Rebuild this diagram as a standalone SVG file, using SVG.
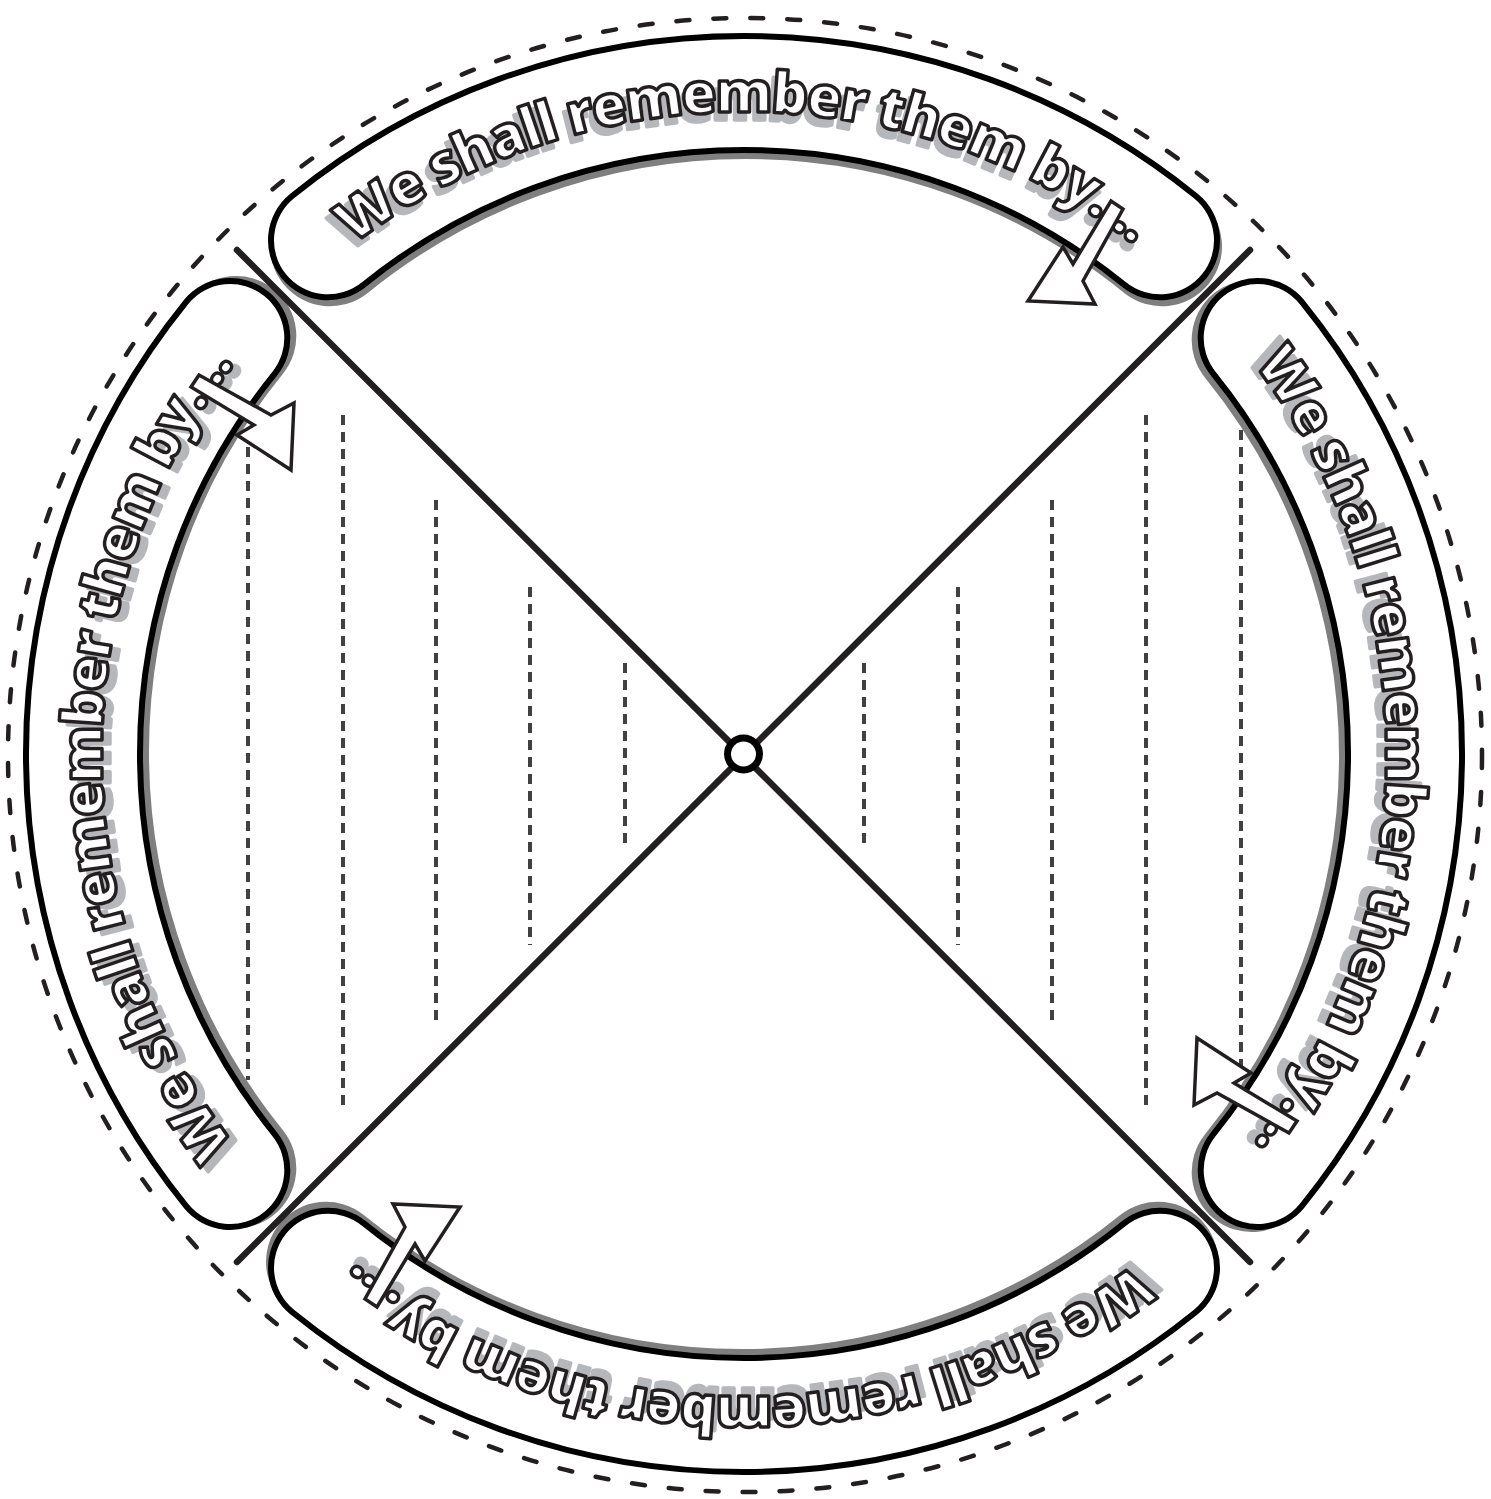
<svg xmlns="http://www.w3.org/2000/svg" xmlns:xlink="http://www.w3.org/1999/xlink" width="1491" height="1499" viewBox="0 0 1491 1499">
<style>
.bshadow{fill:none;stroke:#7f7f7f;stroke-width:120;stroke-linecap:round}
.bedge{fill:none;stroke:#000;stroke-width:120;stroke-linecap:round}
.bfill{fill:none;stroke:#fff;stroke-width:108;stroke-linecap:round}
.lbl{font-family:"Open Sans","DejaVu Sans",sans-serif;font-weight:800;font-size:57px}
.lbl-sh{fill:#b5b7ba;stroke:#b5b7ba;stroke-width:3.5;stroke-linejoin:round}
.lbl-tx{fill:#fff;stroke:#231f20;stroke-width:3.5;stroke-linejoin:round}
.arrow{fill:#fff;stroke:#231f20;stroke-width:3.5;stroke-linejoin:miter}
.guide{fill:none;stroke:#414042;stroke-width:4;stroke-dasharray:10 7}
.cross{fill:none;stroke:#231f20;stroke-width:6.5;stroke-linecap:round}
</style>
<defs>
<path id="band" d="M328 240.3 A661 661 0 0 1 1160 240.3"/>
<path id="tpath" d="M188 433 A642 642 0 0 1 1300 433"/>
<g id="banner">
<use xlink:href="#band" class="bshadow" transform="translate(2,6)"/>
<use xlink:href="#band" class="bedge"/>
<use xlink:href="#band" class="bfill"/>
<g transform="translate(-4,8)"><text class="lbl lbl-sh"><textPath xlink:href="#tpath" startOffset="50%" text-anchor="middle" textLength="840" lengthAdjust="spacing">We shall remember them by....</textPath></text></g>
<text class="lbl lbl-tx"><textPath xlink:href="#tpath" startOffset="50%" text-anchor="middle" textLength="840" lengthAdjust="spacing">We shall remember them by....</textPath></text>
<polygon class="arrow" points="1028,301 1063,247 1073,264 1111,201 1123,209 1083,281 1095,304"/>
</g>
</defs>
<rect width="1491" height="1499" fill="#fff"/>
<circle id="outer-cut" cx="745" cy="755" r="737" fill="none" stroke="#231f20" stroke-width="4.5" stroke-dasharray="13 24" stroke-linecap="round"/>
<g id="guides">
<line class="guide" x1="248" y1="430" x2="248" y2="1080"/>
<line class="guide" x1="343" y1="415" x2="343" y2="1110"/>
<line class="guide" x1="436" y1="500" x2="436" y2="1027"/>
<line class="guide" x1="530" y1="587" x2="530" y2="945"/>
<line class="guide" x1="625" y1="663" x2="625" y2="845"/>
<line class="guide" x1="864" y1="663" x2="864" y2="845"/>
<line class="guide" x1="958" y1="587" x2="958" y2="945"/>
<line class="guide" x1="1052" y1="500" x2="1052" y2="1027"/>
<line class="guide" x1="1146" y1="415" x2="1146" y2="1110"/>
<line class="guide" x1="1241" y1="430" x2="1241" y2="1080"/>
</g>
<g id="banner-top"><use xlink:href="#banner"/></g>
<g id="banner-right"><use xlink:href="#banner" transform="rotate(90 744 754)"/></g>
<g id="banner-bottom"><use xlink:href="#banner" transform="rotate(180 744 754)"/></g>
<g id="banner-left"><use xlink:href="#banner" transform="rotate(270 744 754)"/></g>
<g id="connectors">
<line class="cross" x1="237" y1="250" x2="1250" y2="1262"/>
<line class="cross" x1="1250" y1="250" x2="237" y2="1262"/>
</g>
<g id="hub"><circle cx="743.5" cy="754" r="16" fill="#fff" stroke="#000" stroke-width="7"/></g>
</svg>
